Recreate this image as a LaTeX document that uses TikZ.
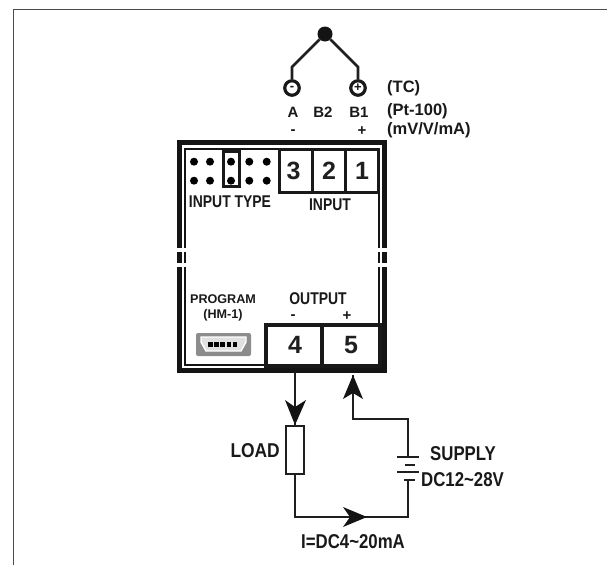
\documentclass[tikz,border=0pt]{standalone}
\usepackage{graphicx}
\usepackage{fontspec}
\setmainfont{Liberation Sans}
\newcommand{\nrw}[2]{\scalebox{#1}[1]{#2}}
\begin{document}
\begin{tikzpicture}[x=1pt,y=-1pt,
  lbl/.style={font=\bfseries\fontsize{#1}{#1}\selectfont,inner sep=0pt,text=black!90},
  wire/.style={line width=2pt,black!88},
  head/.style={fill=black!92,draw=none},
  digit/.style={draw=black!90,fill=white,inner sep=0pt,font=\bfseries\fontsize{25}{25}\selectfont,text=black!88},
  pin/.style={circle,fill=black,inner sep=0pt,minimum size=8pt},
  probe/.style={circle,draw=black!90,line width=3.2pt,fill=white,inner sep=0pt,minimum size=14.5pt}]
\useasboundingbox (0,0) rectangle (607,565);
% page frame
\draw[line width=1.6pt,black!70] (13.5,565) -- (13.5,9.5) -- (607,9.5);
% thermocouple
\node[circle,fill=black!92,inner sep=0pt,minimum size=15pt] (tip) at (325,34) {};
\node[probe] (tA) at (292,88) {};
\node[probe] (tB) at (358,88) {};
\node[lbl=13] at (tA) {-};
\node[lbl=13] at (tB) {+};
\coordinate (kA) at (292,67);
\coordinate (kB) at (358,67);
\draw[wire,line width=2.8pt] (tA.north) -- (kA) -- (tip);
\draw[wire,line width=2.8pt] (tB.north) -- (kB) -- (tip);
\node[lbl=15] (la) at (293,112) {A};
\node[lbl=15] (lb2) at (323,112) {B2};
\node[lbl=15] (lb1) at (359,112) {B1};
\node[lbl=15] (lm) at (293,132) {-};
\node[lbl=15] (lp) at (362,131) {+};
\node[lbl=16.5,anchor=west] (tc) at (387,88) {(TC)};
\node[lbl=16.5,anchor=west] (pt) at (387,111) {(Pt-100)};
\node[lbl=16.5,anchor=west] (mv) at (387,130) {(mV/V/mA)};
% housing
\draw[line width=5pt,black!92] (179.5,142.5) rectangle (384.5,370.5);
\draw[line width=2pt,black!92] (184.5,149) rectangle (378.5,364.5);
\fill[white] (172,248) rectangle (392,252);
\fill[white] (172,263) rectangle (392,267);
% input block
\node[digit,line width=3pt,minimum width=33pt,minimum height=43pt] (t3) at (296,170.5) {\hspace{-5pt}3};
\node[digit,line width=3pt,minimum width=33pt,minimum height=43pt] (t2) at (329,170.5) {2};
\node[digit,line width=3pt,minimum width=33pt,minimum height=43pt] (t1) at (362,170.5) {1};
% jumper
\node[draw=black!90,line width=3pt,minimum width=16pt,minimum height=35pt,inner sep=0pt] (jump) at (231.5,169) {};
\foreach \x/\n in {194/a,210/b,231/c,249.3/d,266.7/e}{
  \node[pin] (u\n) at (\x,161.7) {};
  \node[pin] (v\n) at (\x,180.7) {};
}
\node[lbl=17] (itype) at (230,202) {\nrw{.82}{INPUT TYPE}};
\node[lbl=17] (inp) at (330,205) {\nrw{.82}{INPUT}};
% program
\node[lbl=12.6] (prog) at (223,299) {PROGRAM};
\node[lbl=12.6] (hm) at (223,315) {(HM-1)};
\node[fill=black!45,rounded corners=2pt,minimum width=55pt,minimum height=23pt,inner sep=0pt] (usb) at (223.5,344.5) {};
\draw[fill=black!12,draw=white,line width=1.4pt] (201,337) -- (246,337) -- (246,342) -- (241,351) -- (206,351) -- (201,342) -- cycle;
\foreach \x in {208,214.2,220.4,226.6,232.8}{\fill[black] (\x,342) rectangle (\x+4.6,347);}
% output
\node[lbl=17] (out) at (318,299) {\nrw{.82}{OUTPUT}};
\node[lbl=15] at (293,317) {-};
\node[lbl=15] at (347,316) {+};
\node[digit,line width=4pt,minimum width=58pt,minimum height=41pt] (t4) at (295,345) {\raisebox{-2pt}{4}};
\node[digit,line width=4pt,minimum width=58pt,minimum height=41pt] (t5) at (351,345) {\raisebox{-2pt}{5}};
% circuit
\node[draw=black!88,line width=2pt,fill=white,minimum width=18pt,minimum height=48pt,inner sep=0pt] (load) at (295,450) {};
\coordinate (o4) at (295,372);
\coordinate (o5) at (353,375);
\coordinate (c1) at (353,419);
\coordinate (c2) at (408,419);
\coordinate (b1) at (408,457);
\coordinate (b2) at (408,480);
\coordinate (c3) at (408,517);
\coordinate (c4) at (295,517);
\draw[wire] (o4) -- (load.north);
\draw[wire] (load.south) -- (c4) -- (c3) -- (b2);
\draw[wire] (o5) -- (c1) -- (c2) -- (b1);
\draw[wire] (397,457) -- (419,457);
\draw[wire,line width=2.4pt] (405,465) -- (415,465);
\draw[wire] (397,472) -- (419,472);
\draw[wire,line width=2.4pt] (404,480) -- (415,480);
\fill[head] (295,425) -- (285,400) -- (295,407) -- (306,400) -- cycle;
\fill[head] (353,375) -- (343,399) -- (353,393) -- (363,399) -- cycle;
\fill[head] (367,517) -- (343,507) -- (350,517) -- (343,527) -- cycle;
\node[lbl=20,anchor=east] (ll) at (280,451) {\nrw{.87}{LOAD}};
\node[lbl=20,anchor=west] (sup) at (430,454) {\nrw{.84}{SUPPLY}};
\node[lbl=20,anchor=west] (dc) at (421,480) {\nrw{.84}{DC12\textasciitilde 28V}};
\node[lbl=20] (cur) at (353,542) {\nrw{.84}{I=DC4\textasciitilde 20mA}};
\end{tikzpicture}
\end{document}
